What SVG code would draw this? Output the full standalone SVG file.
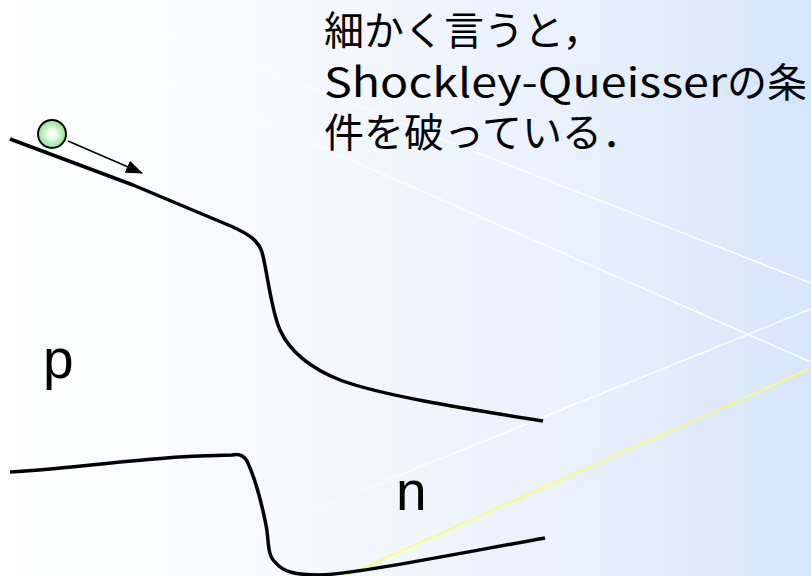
<svg xmlns="http://www.w3.org/2000/svg" width="811" height="576" viewBox="0 0 811 576">
<defs>
<linearGradient id="bg" x1="0" y1="0" x2="1" y2="0">
<stop offset="0" stop-color="#ffffff"/>
<stop offset="0.35" stop-color="#f6f9fe"/>
<stop offset="0.7" stop-color="#e9f1fd"/>
<stop offset="1" stop-color="#d5e5fb"/>
</linearGradient>
<linearGradient id="fadeW" gradientUnits="userSpaceOnUse" x1="100" y1="0" x2="811" y2="0">
<stop offset="0" stop-color="#ffffff" stop-opacity="0"/>
<stop offset="0.4" stop-color="#ffffff" stop-opacity="0.8"/>
<stop offset="1" stop-color="#ffffff" stop-opacity="1"/>
</linearGradient>
<linearGradient id="fadeW2" gradientUnits="userSpaceOnUse" x1="200" y1="0" x2="811" y2="0">
<stop offset="0" stop-color="#ffffff" stop-opacity="0"/>
<stop offset="0.5" stop-color="#ffffff" stop-opacity="1"/>
<stop offset="1" stop-color="#ffffff" stop-opacity="1"/>
</linearGradient>
<radialGradient id="ball" cx="0.5" cy="0.5" r="0.5">
<stop offset="0" stop-color="#ffffff"/>
<stop offset="0.35" stop-color="#e8fbe8"/>
<stop offset="1" stop-color="#8ee08e"/>
</radialGradient>
<marker id="ah" markerWidth="17" markerHeight="13" refX="16" refY="6.5" orient="auto" markerUnits="userSpaceOnUse" viewBox="0 0 17 13">
<path d="M0,0 L17,6.5 L0,13 Z" fill="#000"/>
</marker>
</defs>
<style>
.band{fill:none;stroke:#000;stroke-width:3.5;stroke-linecap:butt;stroke-linejoin:round}
.jp{font-family:"Noto Sans CJK JP","Noto Sans",sans-serif;font-size:40px;fill:#000}
.lbl{font-family:"Liberation Sans",Arial,sans-serif;font-size:55px;fill:#000}
</style>
<rect width="811" height="576" fill="url(#bg)"/>
<g id="deco" fill="none" stroke-width="1.5">
<line x1="60" y1="-10" x2="811" y2="283" stroke="url(#fadeW)"/>
<line x1="0" y1="6" x2="811" y2="362" stroke="url(#fadeW)"/>
<line x1="150" y1="576" x2="811" y2="309" stroke="url(#fadeW2)"/>
<line x1="347" y1="575" x2="811" y2="368" stroke="#ffff55"/>
</g>
<g id="conduction-band">
<path class="band" d="M10,139 L133,185 L233,227 C248,234 258,240 262,252 C268,275 271,310 280,330 C290,352 310,368 340,380 C380,395 460,408 543,421"/>
</g>
<g id="valence-band">
<path class="band" d="M10,472 C80,468 150,457 200,456 L232,455 C240,453 244,456 247,461 C255,478 262,505 266,525 C269,540 267,555 275,562 C283,572 295,575 320,575 C360,573 450,555 545,538"/>
</g>
<g id="electron">
<circle cx="52" cy="134" r="14" fill="url(#ball)" stroke="#000" stroke-width="2"/>
</g>
<g id="connectors">
<line x1="68" y1="141" x2="142" y2="173" stroke="#000" stroke-width="1.5" marker-end="url(#ah)"/>
</g>
<g id="label-p"><text class="lbl" x="43" y="378">p</text></g>
<g id="label-n"><text class="lbl" x="396" y="510">n</text></g>
<g id="note">
<text class="jp" x="324" y="45">細かく言うと，</text>
<text class="jp" x="324" y="97"><tspan textLength="403" lengthAdjust="spacingAndGlyphs">Shockley-Queisser</tspan><tspan x="727">の条</tspan></text>
<text class="jp" x="324" y="147">件を破っている．</text>
</g>
</svg>
